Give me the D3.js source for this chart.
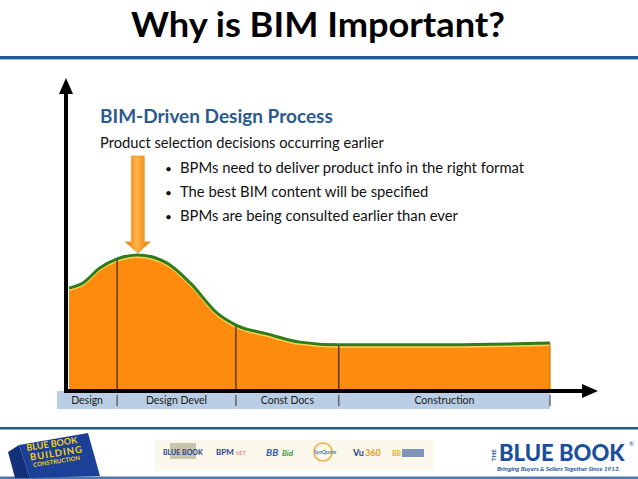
<!DOCTYPE html>
<html>
<head>
<meta charset="utf-8">
<script src="https://cdn.jsdelivr.net/npm/d3@7"></script>
<style>
  body { margin: 0; background: #fff; }
  svg { display: block; font-family: Lato, "Open Sans", sans-serif; }
</style>
</head>
<body>
<div id="chart"></div>
<script>
// phases along the bottom band and where they start / end (project time, %)
const phases = ["Design", "Design Devel", "Const Docs", "Construction"];
const phaseBounds = [0, 10, 34.7, 56.1, 100];

// involvement curve
const timeVals = [0, 2.9, 6.4, 10, 14.3, 20.4, 25.2, 30.8, 34.7, 41.2, 48, 56.1, 79.2, 100];
const involvement = [33.4, 35.1, 40, 43, 44.3, 41.6, 35.1, 25.2, 21.3, 18.4, 15.7, 14.8, 14.8, 15.4];
const peakTime = 14.3;

const titleText = "Why is BIM Important?";
const subTitle = "BIM-Driven Design Process";
const leadLine = "Product selection decisions occurring earlier";
const bullets = [
    "BPMs need to deliver product info in the right format",
    "The best BIM content will be specified",
    "BPMs are being consulted earlier than ever"
];

const width = 638, height = 479;

const svg = d3.select("#chart").append("svg")
    .attr("width", width)
    .attr("height", height);

const defs = svg.append("defs");
const arrowGrad = defs.append("linearGradient")
    .attr("id", "arrowGrad")
    .attr("x1", "0%").attr("x2", "100%");
arrowGrad.append("stop").attr("offset", "0%").attr("stop-color", "#e27800");
arrowGrad.append("stop").attr("offset", "45%").attr("stop-color", "#ffb347");
arrowGrad.append("stop").attr("offset", "100%").attr("stop-color", "#e27800");

// title + header rule
svg.append("text")
    .attr("x", 131).attr("y", 37)
    .attr("textLength", 374)
    .attr("lengthAdjust", "spacingAndGlyphs")
    .style("font-size", "34px")
    .style("font-weight", "bold")
    .style("fill", "#000")
    .text(titleText);

svg.append("rect").attr("x", 0).attr("y", 56).attr("width", width).attr("height", 3).style("fill", "#1f5a96");
svg.append("rect").attr("x", 0).attr("y", 59).attr("width", width).attr("height", 1).style("fill", "#9fc0e0");

// scales
const x = d3.scaleLinear().domain([0, 100]).range([69, 550]);
const y = d3.scaleLinear().domain([0, 100]).range([390, 85]);

const pts = timeVals.map((t, i) => ({ t, v: involvement[i] }));

const area = d3.area()
    .x(d => x(d.t))
    .y0(y(0))
    .y1(d => y(d.v))
    .curve(d3.curveMonotoneX);

const line = d3.line()
    .x(d => x(d.t))
    .y(d => y(d.v))
    .curve(d3.curveMonotoneX);

svg.append("path")
    .datum(pts)
    .attr("d", area)
    .style("fill", "#fd8b0d");

// yellow glow below the green edge
svg.append("path")
    .datum(pts)
    .attr("d", line)
    .attr("transform", "translate(0,2)")
    .style("fill", "none")
    .style("stroke", "#ffd45c")
    .style("stroke-width", 2);

svg.append("path")
    .datum(pts)
    .attr("d", line)
    .style("fill", "none")
    .style("stroke", "#2f7d18")
    .style("stroke-width", 3);

// phase dividers inside the area
const valueAt = t => involvement[timeVals.indexOf(t)];
svg.selectAll(".divider")
    .data(phaseBounds.slice(1, -1))
    .join("line")
    .attr("class", "divider")
    .attr("x1", d => x(d)).attr("x2", d => x(d))
    .attr("y1", d => y(valueAt(d)) + 1)
    .attr("y2", y(0))
    .style("stroke", "#111")
    .style("stroke-width", 1);

svg.append("line")
    .attr("x1", x(100)).attr("x2", x(100))
    .attr("y1", y(valueAt(100)))
    .attr("y2", y(0))
    .style("stroke", "#c96a00")
    .style("stroke-width", 1);

// phase band
const bandTop = y(0) + 1, bandH = 18;
svg.append("rect")
    .attr("x", x(0) - 12)
    .attr("y", bandTop)
    .attr("width", x(100) - x(0) + 12)
    .attr("height", bandH)
    .style("fill", "#b9cde5");

svg.selectAll(".bandTick")
    .data(phaseBounds.slice(1))
    .join("line")
    .attr("class", "bandTick")
    .attr("x1", d => x(d)).attr("x2", d => x(d))
    .attr("y1", bandTop + 4)
    .attr("y2", bandTop + bandH - 3)
    .style("stroke", "#333")
    .style("stroke-width", 1);

svg.selectAll(".phaseLabel")
    .data(phases)
    .join("text")
    .attr("class", "phaseLabel")
    .attr("x", (d, i) => {
        const left = i === 0 ? x(0) - 12 : x(phaseBounds[i]);
        return (left + x(phaseBounds[i + 1])) / 2;
    })
    .attr("y", bandTop + 13)
    .attr("text-anchor", "middle")
    .style("font-size", "10.5px")
    .style("fill", "#1a1a1a")
    .text(d => d);

// axes with arrowheads
const axisX = 66, axisY = y(0) + 1;
svg.append("line")
    .attr("x1", axisX).attr("x2", axisX)
    .attr("y1", 92).attr("y2", axisY + 2)
    .style("stroke", "#000").style("stroke-width", 4);
svg.append("path")
    .attr("d", `M${axisX},78 L${axisX - 7},94 L${axisX + 7},94 Z`)
    .style("fill", "#000");

svg.append("line")
    .attr("x1", axisX - 2).attr("x2", 584)
    .attr("y1", axisY).attr("y2", axisY)
    .style("stroke", "#000").style("stroke-width", 4);
svg.append("path")
    .attr("d", `M598,${axisY} L582,${axisY - 7} L582,${axisY + 7} Z`)
    .style("fill", "#000");

// down arrow pointing at the peak
const ax = x(peakTime), tipY = y(valueAt(peakTime)) - 2;
svg.append("path")
    .attr("d", `M${ax - 6.5},156 L${ax + 6.5},156 L${ax + 6.5},${tipY - 11} L${ax + 12.5},${tipY - 11} L${ax},${tipY} L${ax - 12.5},${tipY - 11} L${ax - 6.5},${tipY - 11} Z`)
    .style("fill", "url(#arrowGrad)")
    .style("stroke", "#e8a040")
    .style("stroke-width", 0.8);

// text block
svg.append("text")
    .attr("x", 100).attr("y", 123)
    .style("font-size", "19px")
    .style("font-weight", "bold")
    .style("fill", "#2a5a8e")
    .text(subTitle);

svg.append("text")
    .attr("x", 100).attr("y", 148)
    .style("font-size", "14.7px")
    .style("fill", "#111")
    .text(leadLine);

const bulletG = svg.selectAll(".bullet")
    .data(bullets)
    .join("g")
    .attr("class", "bullet")
    .attr("transform", (d, i) => `translate(0,${172.5 + i * 24})`);
bulletG.append("text")
    .attr("x", 165)
    .style("font-size", "12px")
    .style("fill", "#111")
    .text("\u2022");
bulletG.append("text")
    .attr("x", 180)
    .style("font-size", "14.8px")
    .style("fill", "#111")
    .text(d => d);

// footer
svg.append("rect").attr("x", 0).attr("y", 427).attr("width", width).attr("height", 2.5).style("fill", "#1f5a96");
svg.append("rect").attr("x", 0).attr("y", 476.5).attr("width", width).attr("height", 2.5).style("fill", "#4c79ad");

// left logo: book
svg.append("path")
    .attr("d", "M8,452 L19,445 L30,478 L15,478 Z")
    .style("fill", "#14307a");
svg.append("path")
    .attr("d", "M19,445 L88,433 L100,476 L30,478 Z")
    .style("fill", "#1c3f98");
const bookText = svg.append("g").attr("transform", "translate(27,451) rotate(-9)")
    .style("fill", "#f3d214")
    .style("font-weight", "bold");
bookText.append("text").attr("x", 0).attr("y", 0).style("font-size", "9px").text("BLUE BOOK");
bookText.append("text").attr("x", 2).attr("y", 10).style("font-size", "9.5px").style("letter-spacing", "1px").text("BUILDING");
bookText.append("text").attr("x", 4).attr("y", 17).style("font-size", "6px").text("CONSTRUCTION");

// middle strip of product logos
svg.append("rect")
    .attr("x", 155).attr("y", 440).attr("width", 278).attr("height", 31)
    .style("fill", "#fbf7ea");
const strip = svg.append("g").style("font-weight", "bold").style("font-size", "8px");
strip.append("rect").attr("x", 170).attr("y", 443).attr("width", 26).attr("height", 16).style("fill", "#c9c4b0");
strip.append("text").attr("x", 163).attr("y", 455).style("fill", "#1d3f8a").style("font-size", "7px").text("BLUE BOOK");
strip.append("text").attr("x", 216).attr("y", 455).style("fill", "#1d3f8a").text("BPM");
strip.append("text").attr("x", 236).attr("y", 455).style("fill", "#e8908a").style("font-size", "5px").text("NET");
strip.append("text").attr("x", 266).attr("y", 456).style("fill", "#3658b4").style("font-style", "italic").style("font-size", "10px").text("BB");
strip.append("text").attr("x", 282).attr("y", 456).style("fill", "#3a9a3a").style("font-style", "italic").text("Bid");
strip.append("circle").attr("cx", 323).attr("cy", 452).attr("r", 9).style("fill", "none").style("stroke", "#f0b040").style("stroke-width", 1.5);
strip.append("text").attr("x", 314).attr("y", 454).style("fill", "#4a7ab8").style("font-size", "5px").text("SynQuote");
strip.append("text").attr("x", 353).attr("y", 456).style("fill", "#1d3f8a").style("font-size", "9px").text("Vu");
strip.append("text").attr("x", 365).attr("y", 456).style("fill", "#e0a020").style("font-size", "9px").text("360");
strip.append("text").attr("x", 392).attr("y", 456).style("fill", "#e0b020").style("font-size", "7px").text("BB");
strip.append("rect").attr("x", 402).attr("y", 449).attr("width", 22).attr("height", 8).style("fill", "#7f94b8");

// right logo
svg.append("text")
    .attr("x", 496).attr("y", 461)
    .attr("transform", "rotate(-90,496,461)")
    .style("font-size", "6px").style("font-weight", "bold").style("fill", "#1b4f9c")
    .text("THE");
svg.append("text")
    .attr("x", 499).attr("y", 461)
    .style("font-size", "22px").style("font-weight", "900").style("fill", "#1b4f9c")
    .text("BLUE BOOK");
svg.append("text")
    .attr("x", 629).attr("y", 446)
    .style("font-size", "6px").style("fill", "#1b4f9c")
    .text("\u00ae");
svg.append("text")
    .attr("x", 497).attr("y", 471)
    .style("font-size", "6.3px").style("font-weight", "bold").style("font-style", "italic").style("fill", "#1b4f9c")
    .text("Bringing Buyers & Sellers Together Since 1913.");
</script>
</body>
</html>
